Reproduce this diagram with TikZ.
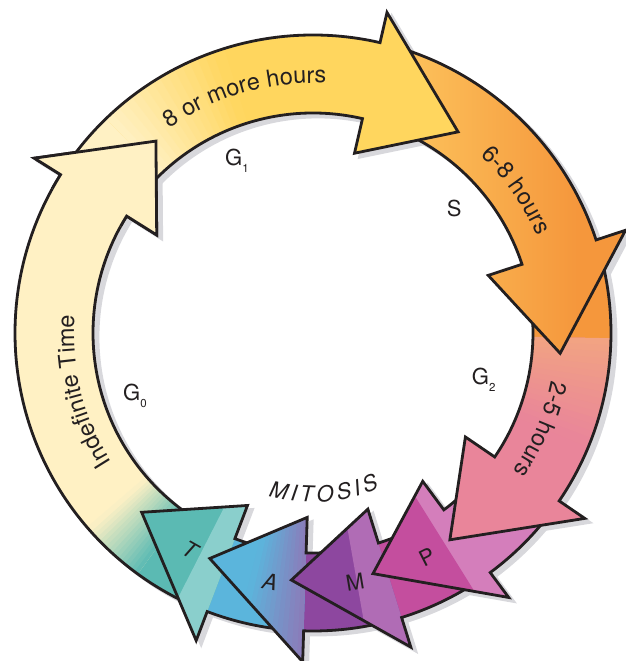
\documentclass[tikz,border=0pt]{standalone}
\usepackage{fontspec}
\setmainfont{TeX Gyre Heros}
\usetikzlibrary{decorations.text}

\definecolor{cPale}{HTML}{FFF1C4}
\definecolor{cYellow}{HTML}{FFD65E}
\definecolor{cOrangeL}{HTML}{FCC05A}
\definecolor{cOrangeD}{HTML}{F5973C}
\definecolor{cSalmon}{HTML}{F2A482}
\definecolor{cPink}{HTML}{E9859A}
\definecolor{cMagenta}{HTML}{C44E9E}
\definecolor{cMagentaL}{HTML}{D47EBB}
\definecolor{cPurple}{HTML}{8D479F}
\definecolor{cPurpleL}{HTML}{B06CB5}
\definecolor{cBlue}{HTML}{5BB5DC}
\definecolor{cViolet}{HTML}{8C7AB8}
\definecolor{cTeal}{HTML}{5BBAB3}
\definecolor{cTealL}{HTML}{8ACFCC}
\definecolor{cShadow}{HTML}{D8D8DC}
\definecolor{cInk}{HTML}{231F20}

\newcommand\lblfont{\fontsize{22}{24}\selectfont}
\newcommand\arcfont{\fontsize{23.5}{25}\selectfont}
\newcommand\subfont{\fontsize{11.5}{12}\selectfont}

% solid wedge (from the centre) between two angles
\newcommand\ringwedge[3]{\fill[#1] (0,0) -- (#2:420) arc[start angle=#2, end angle=#3, radius=420] -- cycle;}
% angular colour ramp from colour #1 (at angle #3) to colour #2 (at angle #4)
\newcommand\ringgrad[5]{%
  \foreach \k in {1,...,#5}{%
    \pgfmathsetmacro\ga{(#3)+((#4)-(#3))*(\k-1)/#5}%
    \pgfmathsetmacro\gb{(#3)+((#4)-(#3))*(\k+0.4)/#5}%
    \pgfmathtruncatemacro\gp{100-100*(\k-0.5)/#5}%
    \fill[#1!\gp!#2] (0,0) -- (\ga:420) arc[start angle=\ga, end angle=\gb, radius=420] -- cycle;
  }}

\tikzset{
  % curved ring segment from angle #1 to #2, ending in an arrow head of angular length #3
  ring arrow/.style n args={3}{insert path={(#1:298) arc[start angle=#1, end angle=#2, radius=298]
      -- (#2:329) -- ({#2-#3}:248) -- (#2:184.5) -- (#2:220)
      arc[start angle=#2, end angle=#1, radius=220] -- cycle}},
  outline/.style={draw=cInk, line width=2.8pt, line join=miter, miter limit=20},
  lbl/.style={font=\lblfont, text=cInk, inner sep=0pt},
  arc text/.style={decorate, decoration={text along path, text align=center,
      text color=cInk, text={|\arcfont|#1}}},
}

% the G0 arrow: teal where it leaves telophase, fading into pale cream
\newcommand\paintGzero{%
  \begin{scope}
    \clip[ring arrow={-113.3}{-212.1}{18.6}];
    \fill[cPale] (-320,-330) rectangle (320,340);
    \ringwedge{cTeal}{-100}{-126}
    \ringgrad{cTeal}{cPale}{-126}{-139}{16}
  \end{scope}
  \draw[outline, ring arrow={-113.3}{-212.1}{18.6}];
}

\begin{document}
\begin{tikzpicture}[x=1pt, y=1pt]
\useasboundingbox (-313,-328) rectangle (313,333);

% drop shadows of all arrows
\begin{scope}[shift={(5,-4)}]
  \foreach \sa/\ba/\da in {145.4/77/22.8, 74.5/18.2/22.9, 15.7/-34.3/22.2,
      -36.8/-53.5/22.5, -56/-72.7/22.3, -75.2/-91.8/22.8, -94.3/-110.8/22.9,
      -113.3/-212.1/18.6}
    \path[fill=cShadow, draw=cShadow, line width=2.8pt, ring arrow={\sa}{\ba}{\da}];
\end{scope}

% G0
\paintGzero

% telophase
\begin{scope}
  \clip[ring arrow={-94.3}{-110.8}{22.9}];
  \fill[cBlue] (-320,-330) rectangle (320,340);
  \ringwedge{cTeal}{-110.8}{-140}
  \ringwedge{cTealL}{-110.8}{-117}
\end{scope}
\draw[outline, ring arrow={-94.3}{-110.8}{22.9}];

% anaphase
\begin{scope}
  \clip[ring arrow={-75.2}{-91.8}{22.8}];
  \fill[cPurple] (-320,-330) rectangle (320,340);
  \ringwedge{cBlue}{-91.8}{-120}
  \ringgrad{cViolet}{cBlue}{-91.8}{-104}{12}
\end{scope}
\draw[outline, ring arrow={-75.2}{-91.8}{22.8}];

% metaphase
\begin{scope}
  \clip[ring arrow={-56}{-72.7}{22.3}];
  \fill[cMagenta] (-320,-330) rectangle (320,340);
  \ringwedge{cPurple}{-72.7}{-100}
  \ringwedge{cPurpleL}{-72.7}{-80}
\end{scope}
\draw[outline, ring arrow={-56}{-72.7}{22.3}];

% prophase
\begin{scope}
  \clip[ring arrow={-36.8}{-53.5}{22.5}];
  \fill[cMagentaL] (-320,-330) rectangle (320,340);
  \ringwedge{cMagenta}{-58}{-80}
\end{scope}
\draw[outline, ring arrow={-36.8}{-53.5}{22.5}];

% G2
\begin{scope}
  \clip[ring arrow={15.7}{-34.3}{22.2}];
  \fill[cPink] (-320,-330) rectangle (320,340);
  \ringwedge{cOrangeD}{20}{-1}
  \ringgrad{cSalmon}{cPink}{-1}{-22}{16}
\end{scope}
\draw[outline, ring arrow={15.7}{-34.3}{22.2}];

% S
\begin{scope}
  \clip[ring arrow={74.5}{18.2}{22.9}];
  \fill[cOrangeL] (-320,-330) rectangle (320,340);
  \shade[left color=cOrangeL, right color=cOrangeD] (100,-40) rectangle (265,300);
  \fill[cOrangeD] (265,-40) rectangle (330,300);
\end{scope}
\draw[outline, ring arrow={74.5}{18.2}{22.9}];

% G1
\begin{scope}
  \clip[ring arrow={145.4}{77}{22.8}];
  \fill[cYellow] (-320,-330) rectangle (320,340);
  \ringwedge{cPale}{150}{134}
  \ringgrad{cPale}{cYellow}{134}{108}{16}
\end{scope}
\draw[outline, ring arrow={145.4}{77}{22.8}];

% head of the G0 arrow lies over the start of G1
\begin{scope}
  \clip (0,0) -- (151:420) arc[start angle=151, end angle=124, radius=420] -- cycle;
  \paintGzero
\end{scope}

% durations written along the ring
\path[arc text={8 or more hours}] (146:250) arc[start angle=146, end angle=66, radius=250];
\path[arc text={6-8 hours}] (65:244) arc[start angle=65, end angle=5, radius=244];
\path[arc text={2-5 hours}] (7:243) arc[start angle=7, end angle=-53, radius=243];
\path[arc text={Indefinite Time}] (-125:239) arc[start angle=-125, end angle=-206.6, radius=239];

% phase names inside the ring
\node[lbl, anchor=base west] (g1) at (-88,167.3) {G\raisebox{-6.5pt}{\subfont 1}};
\node[lbl, anchor=base west] (s) at (133.7,116.3) {S};
\node[lbl, anchor=base west] (g2) at (158.7,-52) {G\raisebox{-6.5pt}{\subfont 2}};
\node[lbl, anchor=base west] (g0) at (-190,-67) {G\raisebox{-7.5pt}{\subfont 0}};

% MITOSIS, set along an arc with tops toward the centre
\foreach \ch/\ang [count=\i] in {M/-102.19, I/-96.76, T/-92.16, O/-85.69, S/-79.01, I/-74.2, S/-69.38}
  \node[lbl, font=\lblfont\itshape, anchor=base, rotate={\ang+90}] (mit\i) at (\ang:169) {\ch};

% stages of mitosis on their arrow heads
\node[lbl, font=\lblfont\itshape, rotate=-29.5] (t) at (-123,-217) {T};
\node[lbl, font=\lblfont\itshape, rotate=-9.8] (a) at (-43,-249) {A};
\node[lbl, rotate=9.6] (m) at (42,-249) {M};
\node[lbl, rotate=27] (p) at (114,-224) {P};
\end{tikzpicture}
\end{document}
